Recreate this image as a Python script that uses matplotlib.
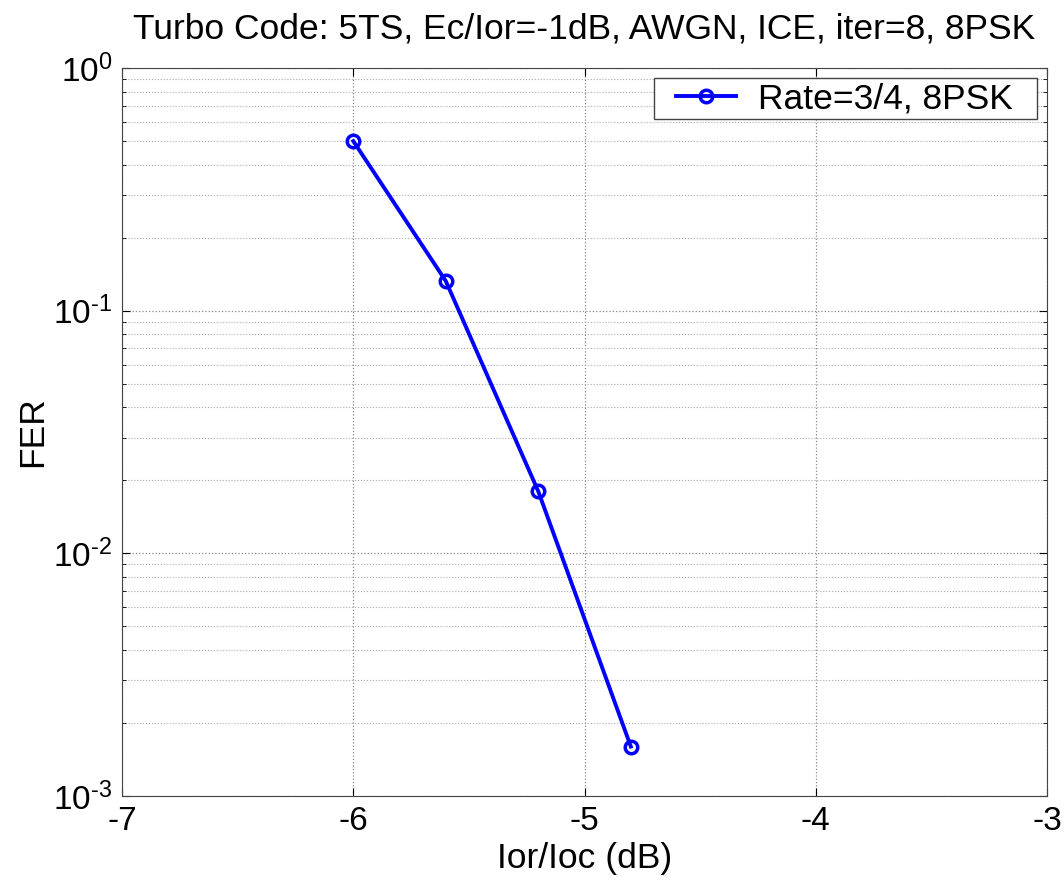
import matplotlib
matplotlib.use("Agg")
import matplotlib.pyplot as plt
from matplotlib.ticker import FixedLocator, FixedFormatter, LogLocator, NullFormatter
from matplotlib.legend_handler import HandlerLine2D

# FER curve for the 3/4 rate 8PSK turbo code
ior_ioc_db = [-6.0, -5.6, -5.2, -4.8]
fer = [0.50, 0.1325, 0.018, 0.0016]
series_label = "Rate=3/4, 8PSK"

x_ticks = [-7, -6, -5, -4, -3]
y_ticks = [1e-3, 1e-2, 1e-1, 1e0]
y_tick_labels = [r"$10^{\text{-3}}$", r"$10^{\text{-2}}$", r"$10^{\text{-1}}$", r"$10^{0}$"]

plt.rcParams["font.family"] = ["Liberation Sans", "DejaVu Sans"]
plt.rcParams["mathtext.fontset"] = "custom"
plt.rcParams["mathtext.rm"] = "Liberation Sans"
plt.rcParams["mathtext.it"] = "Liberation Sans"
plt.rcParams["mathtext.bf"] = "Liberation Sans"
plt.rcParams["axes.unicode_minus"] = False

fig = plt.figure(figsize=(10.64, 8.84), dpi=100)
ax = fig.add_axes([0.1147, 0.0995, 0.8694, 0.8235])

line, = ax.semilogy(ior_ioc_db, fer, color="#0000ff", linewidth=2.8, marker="o",
                    markersize=9, markerfacecolor="none", markeredgewidth=2.5,
                    label=series_label)

ax.set_xlim(-7, -3)
ax.set_ylim(1e-3, 1)
ax.set_xticks(x_ticks)
ax.yaxis.set_major_locator(FixedLocator(y_ticks))
ax.yaxis.set_major_formatter(FixedFormatter(y_tick_labels))
ax.yaxis.set_minor_locator(LogLocator(base=10, subs=range(2, 10), numticks=10))
ax.yaxis.set_minor_formatter(NullFormatter())

ax.grid(True, which="major", linestyle=":", color="#888888", linewidth=0.9)
ax.grid(True, which="minor", axis="y", linestyle=":", color="#aaaaaa", linewidth=0.8)

ax.tick_params(which="both", direction="in", top=True, right=True, labelsize=24)
ax.tick_params(axis="x", pad=7)
ax.tick_params(axis="y", pad=7)
ax.tick_params(which="major", length=6)
ax.tick_params(which="minor", length=3)
for s in ax.spines.values():
    s.set_color("#444444")

ax.set_title("Turbo Code: 5TS, Ec/Ior=-1dB, AWGN, ICE, iter=8, 8PSK",
             fontsize=25.5, pad=21)
ax.set_xlabel("Ior/Ioc (dB)", fontsize=25.5, labelpad=4)
ax.set_ylabel("FER", fontsize=25.5, labelpad=3)

leg = ax.legend(loc="upper right", fontsize=25.5, fancybox=False,
                edgecolor="#444444", framealpha=1, handlelength=2.2,
                handletextpad=0.63, borderpad=0.12, borderaxespad=0.28,
                handler_map={line: HandlerLine2D(xpad=0.5)})
leg.get_frame().set_linewidth(1)
leg.texts[0].set_text(series_label + "  ")

fig.savefig("out.png", dpi=100)
